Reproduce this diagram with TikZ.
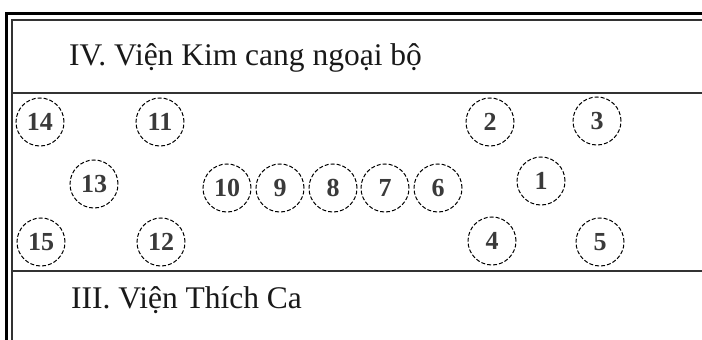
\documentclass[tikz,border=0pt]{standalone}
\usepackage{fontspec}
\setmainfont{Liberation Serif}
\definecolor{numgray}{HTML}{3A3A3A}
\definecolor{linegray}{HTML}{333333}
\tikzset{
  num/.style={circle, draw=black, dash pattern=on 4pt off 2pt, line width=1pt, minimum size=48pt, inner sep=0pt,
    font=\fontsize{26}{26}\selectfont\bfseries, text=numgray},
  title/.style={anchor=base west, inner sep=0pt, font=\fontsize{31.5}{32}\selectfont, text=black!90},
  thick frame/.style={line width=3pt, black},
  thin frame/.style={line width=2pt, linegray},
}
\begin{document}
\begin{tikzpicture}[x=1pt,y=-1pt]
\useasboundingbox (0,0) rectangle (702,340);
\fill[white] (0,0) rectangle (702,340);
% frame
\draw[thick frame] (6.5,340) -- (6.5,13.5) -- (702,13.5);
\draw[thin frame] (11.5,340) -- (11.5,20) -- (702,20);
\draw[thin frame] (11.5,92.5) -- (702,92.5);
\draw[thin frame] (11.5,270.5) -- (702,270.5);
% titles
\node[title] (t4) at (69,65) {IV. Viện Kim cang ngoại bộ};
\node[title] (t3) at (71,308) {III. Viện Thích Ca};
% circles
\node[num] (n14) at (40,122) {14};
\node[num] (n11) at (160,122) {11};
\node[num] (n2) at (490,122) {2};
\node[num] (n3) at (597,121) {3};
\node[num] (n13) at (94,184) {13};
\node[num] (n10) at (227,188) {10};
\node[num] (n9) at (280,188) {9};
\node[num] (n8) at (333,188) {8};
\node[num] (n7) at (385,188) {7};
\node[num] (n6) at (438,188) {6};
\node[num] (n1) at (541,181) {1};
\node[num] (n15) at (41,242) {15};
\node[num] (n12) at (161,242) {12};
\node[num] (n4) at (492,241) {4};
\node[num] (n5) at (600,242) {5};
\end{tikzpicture}
\end{document}
